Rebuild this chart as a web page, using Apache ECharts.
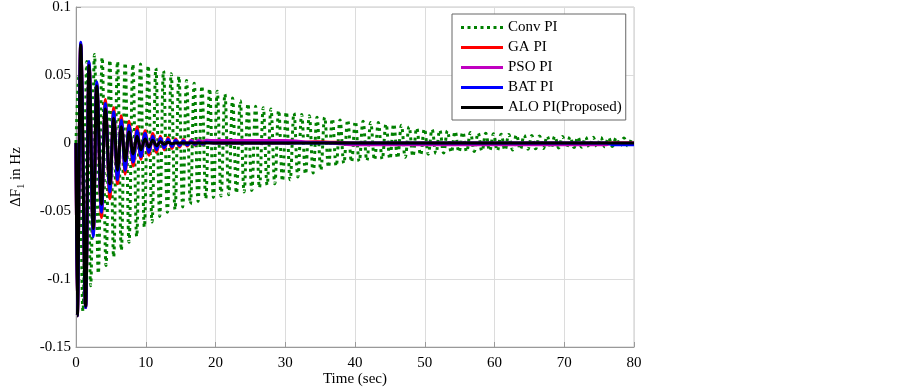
<!DOCTYPE html>
<html>
<head>
<meta charset="utf-8">
<script src="https://cdn.jsdelivr.net/npm/echarts@6/dist/echarts.min.js"></script>
<style>
  html, body { margin: 0; padding: 0; background: #fff; }
  #chart { width: 903px; height: 387px; }
</style>
</head>
<body>
<div id="chart"></div>
<script>
// Conv PI: maxima and minima [time, value]
const convPeaks = [
  [0.45, 0.050], [1.55, 0.060], [2.65, 0.065], [3.75, 0.063], [4.85, 0.061], [5.95, 0.060],
  [7.05, 0.059], [8.15, 0.058], [9.25, 0.058], [10.35, 0.057], [11.45, 0.055], [12.55, 0.053],
  [13.65, 0.051], [14.75, 0.049], [15.85, 0.046], [16.95, 0.044], [18.05, 0.042], [19.15, 0.040],
  [20.25, 0.038], [21.35, 0.036], [22.45, 0.033], [23.55, 0.031], [24.65, 0.029], [25.75, 0.027],
  [26.85, 0.026], [27.95, 0.025], [29.05, 0.024], [30.15, 0.023], [31.25, 0.022], [32.35, 0.021],
  [33.45, 0.020], [34.55, 0.019], [35.65, 0.019], [36.75, 0.018], [37.85, 0.017], [38.95, 0.017],
  [40.05, 0.016], [41.15, 0.016], [42.25, 0.015], [43.35, 0.015], [44.45, 0.014], [45.55, 0.014],
  [46.65, 0.013], [47.75, 0.012], [48.85, 0.011], [49.95, 0.0105], [51.05, 0.010], [52.15, 0.0095],
  [53.25, 0.009], [54.35, 0.0085], [55.45, 0.008], [56.55, 0.0077], [57.65, 0.0074], [58.75, 0.0071],
  [59.85, 0.0068], [60.95, 0.0065], [62.05, 0.0062], [63.15, 0.006], [64.25, 0.0058], [65.35, 0.0055],
  [66.45, 0.0052], [67.55, 0.005], [68.65, 0.0049], [69.75, 0.0048], [70.85, 0.0046], [71.95, 0.0044],
  [73.05, 0.0043], [74.15, 0.0042], [75.25, 0.004], [76.35, 0.0039], [77.45, 0.0038], [78.55, 0.0036],
  [79.65, 0.0035]
];
const convTroughs = [
  [1.0, -0.124], [2.1, -0.105], [3.2, -0.096], [4.3, -0.090], [5.4, -0.084], [6.5, -0.079],
  [7.6, -0.073], [8.7, -0.069], [9.8, -0.062], [10.9, -0.058], [12.0, -0.054], [13.1, -0.051],
  [14.2, -0.049], [15.3, -0.047], [16.4, -0.045], [17.5, -0.043], [18.6, -0.041], [19.7, -0.040],
  [20.8, -0.039], [21.9, -0.038], [23.0, -0.037], [24.1, -0.036], [25.2, -0.035], [26.3, -0.033],
  [27.4, -0.031], [28.5, -0.030], [29.6, -0.028], [30.7, -0.027], [31.8, -0.025], [32.9, -0.023],
  [34.0, -0.022], [35.1, -0.020], [36.2, -0.018], [37.3, -0.017], [38.4, -0.015], [39.5, -0.014],
  [40.6, -0.0135], [41.7, -0.013], [42.8, -0.0125], [43.9, -0.012], [45.0, -0.0118], [46.1, -0.0112],
  [47.2, -0.0105], [48.3, -0.0098], [49.4, -0.009], [50.5, -0.0082], [51.6, -0.0078], [52.7, -0.0074],
  [53.8, -0.007], [54.9, -0.0067], [56.0, -0.0064], [57.1, -0.0062], [58.2, -0.006], [59.3, -0.0058],
  [60.4, -0.0057], [61.5, -0.0054], [62.6, -0.0051], [63.7, -0.0048], [64.8, -0.0046], [65.9, -0.0043],
  [67.0, -0.004], [68.1, -0.0038], [69.2, -0.0036], [70.3, -0.0035], [71.4, -0.0033], [72.5, -0.0031],
  [73.6, -0.003], [74.7, -0.0028], [75.8, -0.0027], [76.9, -0.0025], [78.0, -0.0023], [79.1, -0.0022]
];

// shared extremum times of the optimised controllers
const fastT = [
  0, 0.19, 0.67, 1.39, 1.87, 2.48, 2.97, 3.65, 4.2, 4.85, 5.4, 5.95, 6.5, 7.05, 7.6,
  8.2, 8.75, 9.3, 9.9, 10.45, 11.0, 11.55, 12.1, 12.65, 13.2, 13.75, 14.3, 14.85, 15.4, 15.95,
  16.5, 17.05, 17.6, 18.15, 18.7, 20, 30, 34.5, 40, 50, 60, 70, 76, 77, 80
];
const gaV = [
  0, -0.127, 0.073, -0.121, 0.059, -0.068, 0.044, -0.055, 0.032, -0.041, 0.026, -0.030, 0.020, -0.023, 0.016,
  -0.017, 0.012, -0.012, 0.009, -0.009, 0.007, -0.007, 0.005, -0.005, 0.004, -0.004, 0.003, -0.003, 0.0025, -0.0022,
  0.002, -0.0015, 0.0012, -0.001, 0.0008, 0, 0, 0.001, 0, 0, 0, 0, 0, 0, 0
];
const psoV = [
  0, -0.127, 0.073, -0.121, 0.059, -0.066, 0.043, -0.049, 0.028, -0.034, 0.021, -0.025, 0.015, -0.018, 0.011,
  -0.013, 0.008, -0.009, 0.006, -0.006, 0.004, -0.004, 0.003, -0.003, 0.0025, -0.002, 0.002, -0.0015, 0.002, -0.001,
  0.002, 0.0005, 0.002, 0.001, 0.002, 0.0018, 0.0018, 0.0005, -0.0013, -0.0013, -0.0013, -0.0013, -0.0012, 0, 0
];
const batV = [
  0, -0.127, 0.074, -0.121, 0.060, -0.069, 0.045, -0.051, 0.029, -0.036, 0.023, -0.027, 0.017, -0.020, 0.013,
  -0.014, 0.009, -0.010, 0.007, -0.007, 0.005, -0.005, 0.0035, -0.0035, 0.0025, -0.0025, 0.002, -0.002, 0.0015, -0.0015,
  0.001, -0.001, 0.0008, -0.0008, 0.0005, 0, 0, 0, 0, 0, 0, 0, 0, -0.0012, -0.0012
];
const aloV = [
  0, -0.127, 0.072, -0.120, 0.057, -0.063, 0.042, -0.045, 0.025, -0.030, 0.018, -0.020, 0.012, -0.013, 0.008,
  -0.008, 0.005, -0.005, 0.003, -0.003, 0.002, -0.002, 0.001, -0.001, 0.0005, -0.0005, 0, 0, 0, 0,
  0, 0, 0, 0, 0, 0, 0, 0, 0, 0, 0, 0, 0, 0, 0
];

const names = ['Conv PI', 'GA PI', 'PSO PI', 'BAT PI', 'ALO PI(Proposed)'];
const serif = "'Liberation Serif', 'Times New Roman', serif";

// legend samples: dotted bar for Conv PI, plain bars for the rest
const dotIcon = 'path://M0,0h3v3h-3z M6.5,0h3v3h-3z M13,0h3v3h-3z M19.5,0h3v3h-3z M26,0h3v3h-3z M32.5,0h3v3h-3z M39,0h3v3h-3z';
const barIcon = 'path://M0,0h42v3h-42z';

const convData = [[0, 0]].concat(convPeaks, convTroughs).sort((a, b) => a[0] - b[0]);
const pair = vals => fastT.map((t, i) => [t, vals[i]]);

function solid(name, color, vals) {
  return {
    name: name,
    type: 'line',
    data: pair(vals),
    symbol: 'none',
    smooth: 0.35,
    smoothMonotone: 'x',
    lineStyle: { color: color, width: 3 },
    itemStyle: { color: color },
    z: 3
  };
}

const chart = echarts.init(document.getElementById('chart'));

chart.setOption({
  animation: false,
  backgroundColor: '#fff',
  grid: {
    left: 76,
    right: 269,
    top: 7,
    bottom: 40,
    outerBoundsMode: 'none',
    containLabel: false,
    show: true,
    borderColor: '#c8c8c8',
    borderWidth: 1
  },
  legend: {
    left: 452,
    top: 14,
    orient: 'vertical',
    padding: [6, 4, 5, 9],
    itemWidth: 42,
    itemHeight: 3,
    itemGap: 5,
    backgroundColor: '#fff',
    borderColor: '#666',
    borderWidth: 1,
    borderRadius: 0,
    textStyle: { fontFamily: serif, fontSize: 15, color: '#000', lineHeight: 15 },
    data: names.map((n, i) => ({ name: n, icon: i === 0 ? dotIcon : barIcon }))
  },
  xAxis: {
    type: 'value',
    min: 0,
    max: 80,
    interval: 10,
    name: 'Time (sec)',
    nameLocation: 'middle',
    nameGap: 25,
    nameMoveOverlap: false,
    nameTextStyle: { fontFamily: serif, fontSize: 15, color: '#000' },
    axisLine: { show: true, onZero: false, lineStyle: { color: '#999' } },
    axisTick: { show: true, inside: true, length: 5, lineStyle: { color: '#999' } },
    axisLabel: { fontFamily: serif, fontSize: 15, color: '#000', margin: 9 },
    splitLine: { show: true, lineStyle: { color: '#dcdcdc', width: 1 } }
  },
  yAxis: {
    type: 'value',
    min: -0.15,
    max: 0.1,
    interval: 0.05,
    name: '{a|ΔF}{s|1}{a| in Hz}',
    nameLocation: 'middle',
    nameGap: 50,
    nameMoveOverlap: false,
    nameTextStyle: {
      fontFamily: serif, fontSize: 15, color: '#000',
      rich: {
        a: { fontFamily: serif, fontSize: 15, color: '#000' },
        s: { fontFamily: serif, fontSize: 10, color: '#000', padding: [9, 0, 0, 0] }
      }
    },
    axisLine: { show: true, onZero: false, lineStyle: { color: '#999' } },
    axisTick: { show: true, inside: true, length: 5, lineStyle: { color: '#999' } },
    axisLabel: {
      fontFamily: serif, fontSize: 15, color: '#000', margin: 5,
      formatter: v => String(+v.toFixed(2))
    },
    splitLine: { show: true, lineStyle: { color: '#dcdcdc', width: 1 } }
  },
  series: [
    {
      name: names[0],
      type: 'line',
      data: convData,
      symbol: 'none',
      smooth: 0.4,
      smoothMonotone: 'x',
      lineStyle: { color: '#008000', width: 3, type: [3, 4], cap: 'butt' },
      itemStyle: { color: '#008000' },
      z: 2
    },
    solid(names[1], '#ff0000', gaV),
    solid(names[2], '#c000c0', psoV),
    solid(names[3], '#0000ff', batV),
    solid(names[4], '#000000', aloV)
  ]
});
</script>
</body>
</html>
